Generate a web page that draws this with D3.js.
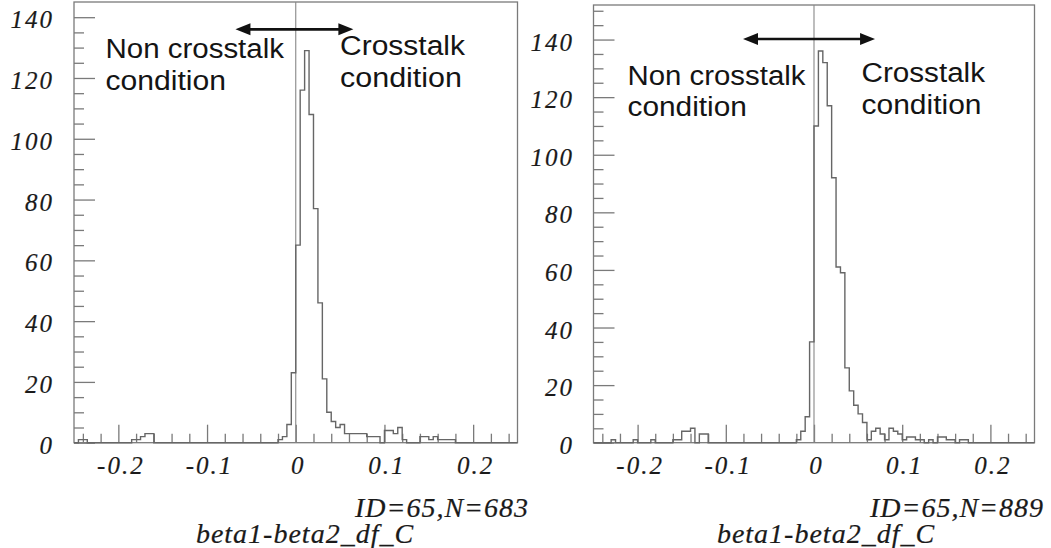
<!DOCTYPE html>
<html>
<head>
<meta charset="utf-8">
<script src="https://cdn.jsdelivr.net/npm/d3@7"></script>
<style>
  body { margin: 0; background: #fff; }
  svg { display: block; }
  .serif { font-family: "Liberation Serif", "Times New Roman", Times, "DejaVu Serif", serif; font-style: italic; }
</style>
</head>
<body>
<svg id="chart"></svg>
<script>
// histogram binning (PAW style, 100 bins)
const binLo = -0.25;
const binHi = 0.25;
const binWidth = 0.005;

// counts per bin, left plot (N=683)
const countsLeft = [
  0, 1, 1, 0, 0, 0, 0, 0, 0, 0,
  0, 0, 0, 1, 1, 2, 3, 3, 0, 0,
  0, 0, 0, 0, 0, 0, 0, 0, 0, 0,
  0, 0, 0, 0, 0, 0, 0, 0, 0, 0,
  0, 0, 0, 0, 0, 0, 1, 2, 6, 23,
  65, 116, 129, 108, 77, 46, 21, 10, 7, 5,
  6, 3, 3, 3, 3, 3, 2, 2, 2, 0,
  4, 4, 3, 5, 1, 0, 0, 0, 2, 2,
  1, 2, 1, 1, 1, 1, 0, 0, 0, 0,
  0, 0, 0, 0, 0, 0, 0, 0, 0, 0
];

// counts per bin, right plot (N=889)
const countsRight = [
  0, 0, 0, 0, 1, 0, 0, 0, 0, 1,
  0, 0, 0, 1, 0, 0, 0, 0, 1, 1,
  4, 4, 5, 0, 3, 3, 0, 0, 0, 0,
  0, 0, 0, 0, 0, 0, 0, 0, 0, 0,
  0, 0, 0, 0, 0, 0, 1, 4, 9, 35,
  110, 136, 132, 117, 92, 61, 59, 26, 18, 13,
  10, 7, 1, 4, 5, 3, 1, 5, 4, 3,
  1, 2, 2, 1, 1, 0, 1, 0, 2, 2,
  1, 1, 0, 1, 1, 0, 0, 0, 0, 0,
  0, 0, 0, 0, 0, 0, 0, 0, 0, 0
];

const xMajorTicks = [-0.2, -0.1, 0, 0.1, 0.2];
const xTickLabels = ["-0.2", "-0.1", "0", "0.1", "0.2"];
const xMinorTicks = [-0.24, -0.22, -0.18, -0.16, -0.14, -0.12, -0.08, -0.06, -0.04, -0.02,
                     0.02, 0.04, 0.06, 0.08, 0.12, 0.14, 0.16, 0.18, 0.22, 0.24];
const yMajorTicks = [0, 20, 40, 60, 80, 100, 120, 140];
const yMinorStep = 5;

const idLabels = ["ID=65,N=683", "ID=65,N=889"];
const xTitle = "beta1-beta2_df_C";
const leftNote = ["Non crosstalk", "condition"];
const rightNote = ["Crosstalk", "condition"];

const W = 1051, H = 548;
const svg = d3.select("#chart").attr("width", W).attr("height", H);

const frameColor = "#7a7a7a";
const histColor = "#666";
const inkColor = "#1a1a1a";
const noteFont = "'Liberation Sans', Arial, sans-serif";

// layout of the two frames (pixel boxes) + annotation spots in data units
const panels = [
  {
    counts: countsLeft, id: idLabels[0], yMax: 145,
    box: { left: 74, right: 517.5, top: 2, bottom: 442.7 },
    yLabelPad: 20, idX: 529, titleX: 305,
    arrow: { x1: -0.068, x2: 0.065, y: 136 },
    noteL: { x: -0.2145, y: [126.6, 116.2], len: [178.5, 120.5] },
    noteR: { x: 0.0499, y: [127.4, 117.0], len: [125, 122] }
  },
  {
    counts: countsRight, id: idLabels[1], yMax: 152,
    box: { left: 593.5, right: 1034.5, top: 5, bottom: 442.7 },
    yLabelPad: 19.5, idX: 1044, titleX: 826,
    arrow: { x1: -0.0805, x2: 0.0692, y: 140.2 },
    noteL: { x: -0.2115, y: [124.2, 113.5], len: [178, 119.5] },
    noteR: { x: 0.0539, y: [125.1, 114.3], len: [123.5, 120] }
  }
];

// serif italic labels, a touch heavier like the scanned original
function serifLabel(sel, size, spacing) {
  sel.attr("class", "serif")
    .attr("font-family", null)
    .style("font-size", size + "px")
    .style("letter-spacing", spacing + "px")
    .attr("fill", inkColor)
    .attr("stroke", inkColor)
    .attr("stroke-width", 0.2);
}

panels.forEach(p => {
  const b = p.box;
  const x = d3.scaleLinear().domain([binLo, binHi]).range([b.left, b.right]);
  const y = d3.scaleLinear().domain([0, p.yMax]).range([b.bottom, b.top]);
  const g = svg.append("g");

  // frame
  g.append("rect")
    .attr("x", b.left).attr("y", b.top)
    .attr("width", b.right - b.left).attr("height", b.bottom - b.top)
    .attr("fill", "none").attr("stroke", frameColor).attr("stroke-width", 1.3);

  // y ticks (inside, pointing right)
  const yMinor = d3.range(0, p.yMax, yMinorStep).filter(v => v % 20 !== 0);
  g.append("g")
    .attr("transform", `translate(${b.left},0)`)
    .call(d3.axisLeft(y).tickValues(yMinor).tickSize(-10).tickFormat(""))
    .call(a => a.select(".domain").remove());
  g.append("g")
    .attr("transform", `translate(${b.left},0)`)
    .call(d3.axisLeft(y).tickValues(yMajorTicks).tickSize(-21).tickPadding(p.yLabelPad).tickFormat(d => String(d)))
    .call(a => a.select(".domain").remove())
    .call(a => a.selectAll("text").attr("dy", "0.42em"));

  // x ticks (inside, pointing up)
  g.append("g")
    .attr("transform", `translate(0,${b.bottom})`)
    .call(d3.axisBottom(x).tickValues(xMinorTicks).tickSize(-9).tickFormat(""))
    .call(a => a.select(".domain").remove());
  g.append("g")
    .attr("transform", `translate(0,${b.bottom})`)
    .call(d3.axisBottom(x).tickValues(xMajorTicks).tickSize(-18).tickPadding(14)
      .tickFormat((d, i) => xTickLabels[i]))
    .call(a => a.select(".domain").remove())
    .call(a => a.selectAll("text").attr("dx", 2));

  g.selectAll(".tick line").attr("stroke", frameColor).attr("stroke-width", 1.3);
  g.selectAll("g").attr("font-family", null);
  g.selectAll(".tick text").call(serifLabel, 25, 2);

  // zero line
  g.append("line")
    .attr("x1", x(0)).attr("x2", x(0))
    .attr("y1", b.top).attr("y2", b.bottom)
    .attr("stroke", "#888").attr("stroke-width", 1.1);

  // histogram outline
  const pts = [{ v: binLo, c: 0 }];
  p.counts.forEach((c, i) => pts.push({ v: binLo + i * binWidth, c }));
  pts.push({ v: binHi, c: p.counts[p.counts.length - 1] });
  pts.push({ v: binHi, c: 0 });
  const line = d3.line()
    .x(d => x(d.v))
    .y(d => y(d.c))
    .curve(d3.curveStepAfter);
  g.append("path")
    .datum(pts)
    .attr("d", line)
    .attr("fill", "none")
    .attr("stroke", histColor)
    .attr("stroke-width", 1.4);

  // double arrow
  const ax1 = x(p.arrow.x1), ax2 = x(p.arrow.x2), ay = y(p.arrow.y);
  const headL = 15, headW = 6;
  g.append("line")
    .attr("x1", ax1 + headL - 2).attr("x2", ax2 - headL + 2)
    .attr("y1", ay).attr("y2", ay)
    .attr("stroke", "#111").attr("stroke-width", 2.6);
  g.append("path")
    .attr("d", `M${ax1},${ay}L${ax1 + headL},${ay - headW}L${ax1 + headL},${ay + headW}Z`)
    .attr("fill", "#111");
  g.append("path")
    .attr("d", `M${ax2},${ay}L${ax2 - headL},${ay - headW}L${ax2 - headL},${ay + headW}Z`)
    .attr("fill", "#111");

  // annotations
  [[p.noteL, leftNote], [p.noteR, rightNote]].forEach(([n, lines]) => {
    lines.forEach((t, k) => {
      g.append("text")
        .attr("x", x(n.x))
        .attr("y", y(n.y[k]))
        .attr("textLength", n.len[k])
        .attr("lengthAdjust", "spacingAndGlyphs")
        .style("font-family", noteFont)
        .style("font-size", "27px")
        .attr("fill", "#141414")
        .text(t);
    });
  });

  // id label and axis title
  g.append("text")
    .attr("x", p.idX).attr("y", 517)
    .attr("text-anchor", "end")
    .call(serifLabel, 28, 1)
    .text(p.id);
  g.append("text")
    .attr("x", p.titleX).attr("y", 543)
    .attr("text-anchor", "middle")
    .call(serifLabel, 28, 1)
    .text(xTitle);
});
</script>
</body>
</html>
